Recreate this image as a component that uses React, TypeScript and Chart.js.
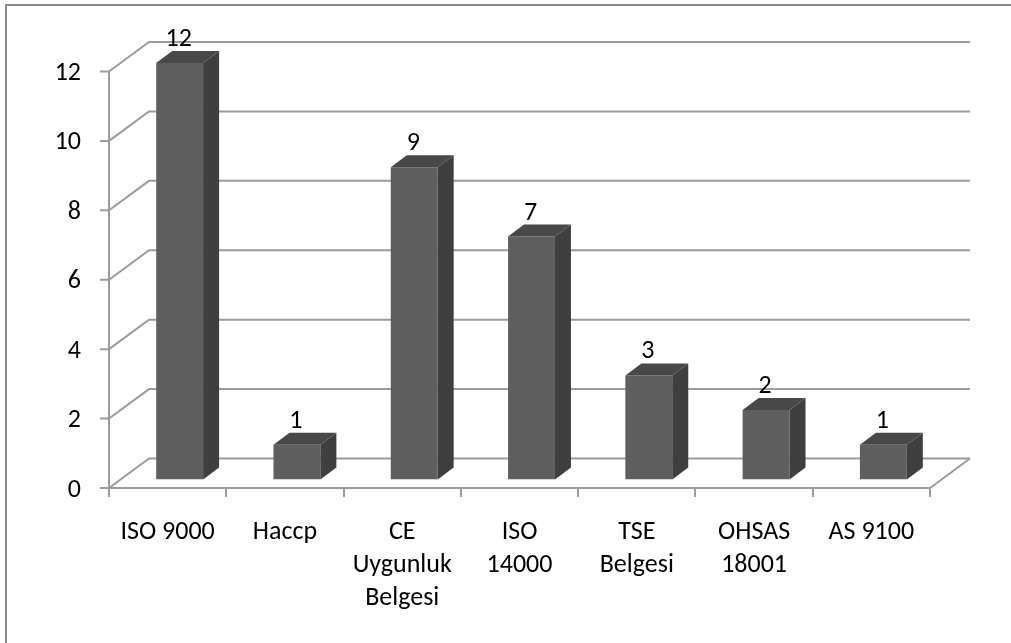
import React, { useEffect, useRef } from "react";
import { Chart, registerables } from "chart.js";

Chart.register(...registerables);

const categories = [
  ["ISO 9000"],
  ["Haccp"],
  ["CE", "Uygunluk", "Belgesi"],
  ["ISO", "14000"],
  ["TSE", "Belgesi"],
  ["OHSAS", "18001"],
  ["AS 9100"],
];
const certificateCounts = [12, 1, 9, 7, 3, 2, 1];
const yTicks = [0, 2, 4, 6, 8, 10, 12];

const FONT = "Carlito, 'Open Sans', 'Noto Sans', sans-serif";
const GRID = "#9c9c9c";
const FRAME = "#8a8a8a";
const DEPTH_X = 40;
const DEPTH_Y = 29.5;
const BAR_SHIFT_X = 12;
const BAR_SHIFT_Y = 8.5;
const SIDE_X = 16;
const SIDE_Y = 12;
const TICK = 9;

const wallPlugin = {
  id: "wall",
  beforeDraw(chart: any) {
    const { ctx, width, height } = chart;
    ctx.save();
    ctx.strokeStyle = FRAME;
    ctx.lineWidth = 2;
    ctx.beginPath();
    ctx.moveTo(6, height);
    ctx.lineTo(6, 5);
    ctx.lineTo(width, 5);
    ctx.stroke();
    ctx.restore();
  },
  beforeDatasetsDraw(chart: any) {
    const { ctx, chartArea } = chart;
    const y = chart.scales.y;
    ctx.save();
    ctx.strokeStyle = GRID;
    ctx.lineWidth = 2;
    ctx.lineCap = "butt";
    for (const t of yTicks) {
      const py = y.getPixelForValue(t);
      ctx.beginPath();
      ctx.moveTo(chartArea.left - TICK, py);
      ctx.lineTo(chartArea.left, py);
      ctx.lineTo(chartArea.left + DEPTH_X, py - DEPTH_Y);
      ctx.lineTo(chartArea.right + DEPTH_X, py - DEPTH_Y);
      ctx.stroke();
    }
    const y0 = y.getPixelForValue(0);
    const y12 = y.getPixelForValue(12);
    ctx.beginPath();
    ctx.moveTo(chartArea.left, y12);
    ctx.lineTo(chartArea.left, y0 + TICK);
    ctx.stroke();
    ctx.beginPath();
    ctx.moveTo(chartArea.left, y0);
    ctx.lineTo(chartArea.right, y0);
    ctx.lineTo(chartArea.right + DEPTH_X, y0 - DEPTH_Y);
    ctx.stroke();
    const step = (chartArea.right - chartArea.left) / categories.length;
    for (let i = 0; i <= categories.length; i++) {
      const px = Math.round(chartArea.left + i * step);
      ctx.beginPath();
      ctx.moveTo(px, y0);
      ctx.lineTo(px, y0 + TICK);
      ctx.stroke();
    }
    ctx.restore();
    // bars are painted shifted back from the front plane
    ctx.save();
    ctx.translate(BAR_SHIFT_X, -BAR_SHIFT_Y);
  },
  afterDatasetsDraw(chart: any) {
    const { ctx } = chart;
    const meta = chart.getDatasetMeta(0);
    meta.data.forEach((bar: any, i: number) => {
      const l = bar.x - bar.width / 2;
      const r = bar.x + bar.width / 2;
      const top = bar.y;
      const base = bar.base;
      ctx.fillStyle = "#3f3f3f";
      ctx.beginPath();
      ctx.moveTo(r, top);
      ctx.lineTo(r + SIDE_X, top - SIDE_Y);
      ctx.lineTo(r + SIDE_X, base - SIDE_Y);
      ctx.lineTo(r, base);
      ctx.closePath();
      ctx.fill();
      ctx.fillStyle = "#484848";
      ctx.beginPath();
      ctx.moveTo(l, top);
      ctx.lineTo(l + SIDE_X, top - SIDE_Y);
      ctx.lineTo(r + SIDE_X, top - SIDE_Y);
      ctx.lineTo(r, top);
      ctx.closePath();
      ctx.fill();
      ctx.fillStyle = "#000";
      ctx.font = `26px ${FONT}`;
      ctx.textAlign = "center";
      ctx.textBaseline = "alphabetic";
      ctx.fillText(String(certificateCounts[i]), bar.x - 1, top - 17);
    });
    ctx.restore();
  },
};

export default function App() {
  const ref = useRef<HTMLCanvasElement>(null);
  useEffect(() => {
    const chart = new Chart(ref.current!, {
      type: "bar",
      data: {
        labels: categories,
        datasets: [
          {
            data: certificateCounts,
            backgroundColor: "#5f5f5f",
            barPercentage: 0.4,
            categoryPercentage: 1,
          },
        ],
      },
      plugins: [wallPlugin],
      options: {
        responsive: false,
        animation: false,
        layout: { padding: { top: 71.5, right: 81, left: 0, bottom: 0 } },
        plugins: { legend: { display: false }, tooltip: { enabled: false } },
        scales: {
          x: {
            position: "bottom",
            afterFit(s: any) { s.height = 643 - 488; },
            grid: { display: false },
            border: { display: false },
            ticks: {
              color: "#000",
              font: { family: FONT, size: 26, lineHeight: "33px" },
              padding: 20,
              maxRotation: 0,
              autoSkip: false,
            },
          },
          y: {
            min: 0,
            max: 12,
            afterFit(s: any) { s.width = 109; },
            grid: { display: false },
            border: { display: false },
            ticks: {
              stepSize: 2,
              color: "#000",
              font: { family: FONT, size: 26 },
              padding: 20,
              labelOffset: 2,
            },
          },
        },
      },
    } as any);
    return () => chart.destroy();
  }, []);
  return (
    <div style={{ position: "fixed", left: 0, top: 0, width: 1011, height: 643, background: "#fff" }}>
      <canvas ref={ref} width={1011} height={643} style={{ display: "block" }} />
    </div>
  );
}
